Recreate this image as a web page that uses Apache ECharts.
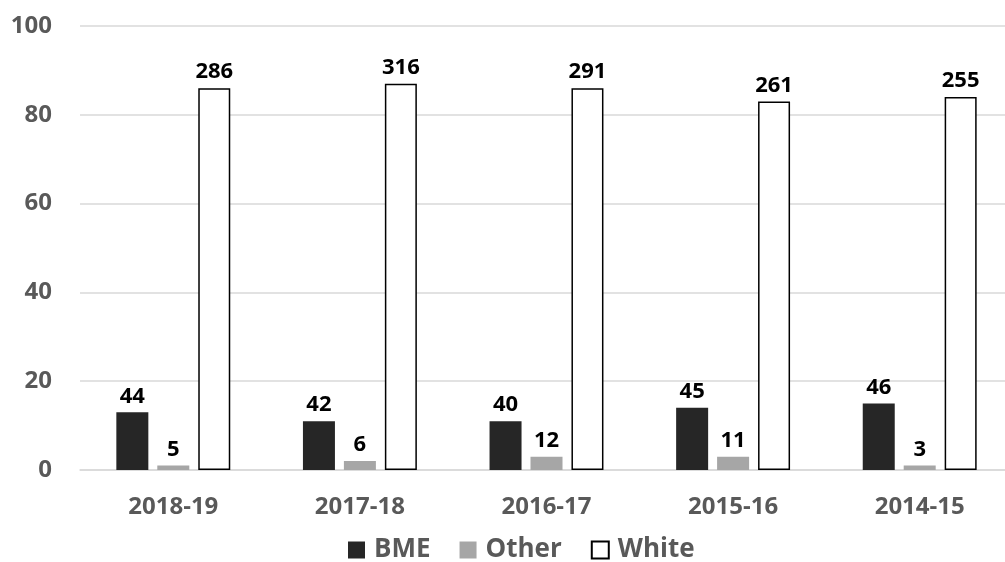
<!DOCTYPE html>
<html>
<head>
<meta charset="utf-8">
<title>Ethnicity breakdown by year</title>
<script src="https://cdn.jsdelivr.net/npm/echarts@6/dist/echarts.min.js"></script>
<style>
  html, body { margin: 0; padding: 0; background: #ffffff; overflow: hidden; }
  /* chart is a little wider than the window so the plot runs off the right edge */
  #chart { width: 1013px; height: 562px; }
</style>
</head>
<body>
<div id="chart"></div>
<script>
// Academic years, newest first
const years = ['2018-19', '2017-18', '2016-17', '2015-16', '2014-15'];

// Share of each group (%), plotted as bar height
const bmeShare   = [13, 11, 11, 14, 15];
const otherShare = [1, 2, 3, 3, 1];
const whiteShare = [86, 87, 86, 83, 84];

// Headcounts shown above each bar
const bmeCount   = [44, 42, 40, 45, 46];
const otherCount = [5, 6, 12, 11, 3];
const whiteCount = [286, 316, 291, 261, 255];

// Value axis ticks
const yTicks = [0, 20, 40, 60, 80, 100];

const FONT = '"Open Sans", "DejaVu Sans", sans-serif';

function countLabel(counts) {
  return {
    show: true,
    position: 'top',
    distance: 5,
    color: '#000000',
    fontFamily: FONT,
    fontWeight: 'bold',
    fontSize: 22,
    formatter: p => String(counts[p.dataIndex])
  };
}

const chart = echarts.init(document.getElementById('chart'), null, { renderer: 'canvas' });

chart.setOption({
  animation: false,
  backgroundColor: '#ffffff',
  grid: { left: 80, right: 0, top: 26, bottom: 92, containLabel: false },
  legend: {
    top: 532,
    left: 343,
    icon: 'rect',
    itemWidth: 17,
    itemHeight: 17,
    itemGap: 29,
    textStyle: {
      color: '#595959', fontFamily: FONT, fontWeight: 'bold', fontSize: 26,
      padding: [0, 0, 0, 4]
    },
    data: ['BME', 'Other', 'White']
  },
  xAxis: {
    type: 'category',
    data: years,
    axisTick: { show: false },
    axisLine: { lineStyle: { color: '#d9d9d9', width: 1.5 } },
    axisLabel: { color: '#595959', fontFamily: FONT, fontWeight: 'bold', fontSize: 24, margin: 25 }
  },
  yAxis: {
    type: 'value',
    min: yTicks[0],
    max: yTicks[yTicks.length - 1],
    interval: yTicks[1] - yTicks[0],
    axisLine: { show: false },
    axisTick: { show: false },
    splitLine: { lineStyle: { color: '#d9d9d9', width: 1.5 } },
    axisLabel: { color: '#595959', fontFamily: FONT, fontWeight: 'bold', fontSize: 24, margin: 28 }
  },
  series: [
    {
      name: 'BME', type: 'bar', data: bmeShare,
      barWidth: 32, barGap: '28%',
      itemStyle: { color: '#262626' },
      label: countLabel(bmeCount)
    },
    {
      name: 'Other', type: 'bar', data: otherShare,
      barWidth: 32, barGap: '28%',
      itemStyle: { color: '#a6a6a6' },
      label: countLabel(otherCount)
    },
    {
      name: 'White', type: 'bar', data: whiteShare,
      barWidth: 32, barGap: '28%',
      itemStyle: { color: '#ffffff', borderColor: '#000000', borderWidth: 1.5 },
      label: countLabel(whiteCount)
    }
  ]
});
</script>
</body>
</html>
